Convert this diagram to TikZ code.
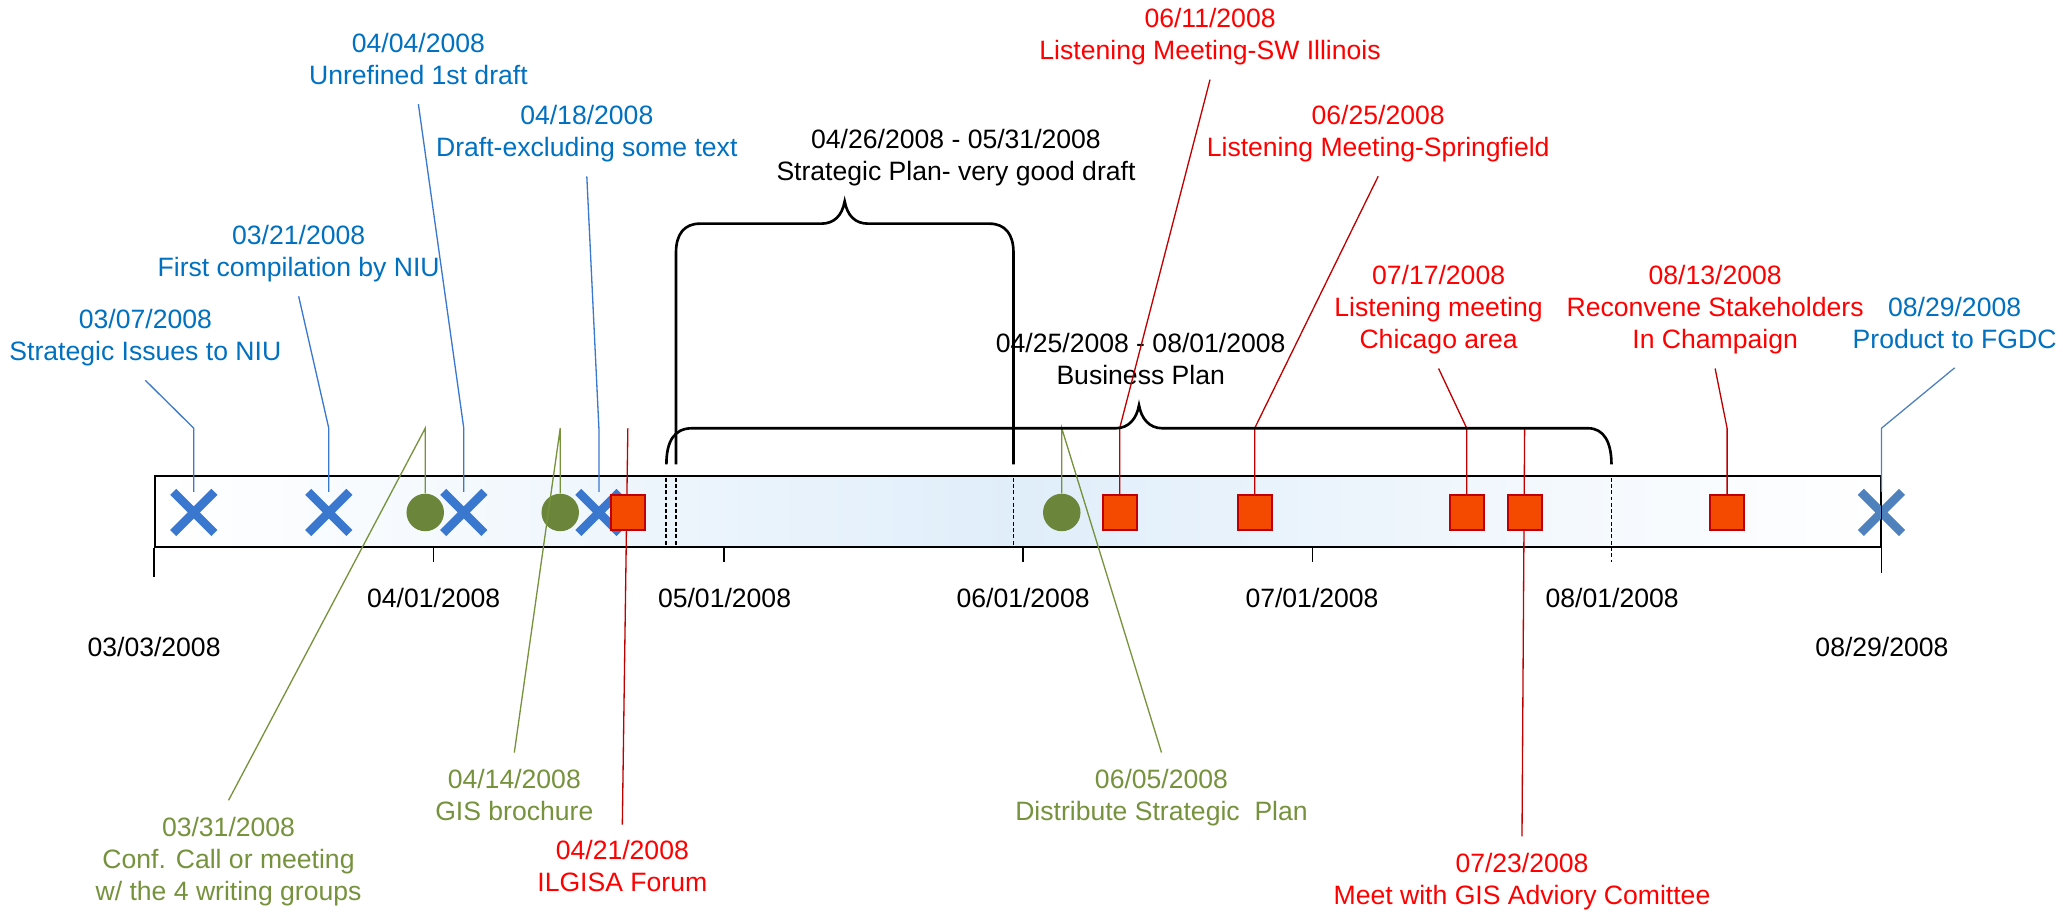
\documentclass[tikz,border=0pt]{standalone}
\usepackage{fontspec}
\setmainfont{Liberation Sans}
\usetikzlibrary{shapes.misc}
\definecolor{txtblue}{RGB}{0,112,192}
\definecolor{xblue}{RGB}{58,120,208}
\definecolor{acblue}{RGB}{79,129,189}
\definecolor{txtgreen}{RGB}{118,146,60}
\definecolor{dotgreen}{RGB}{107,133,58}
\definecolor{txtred}{RGB}{255,0,0}
\definecolor{lnred}{RGB}{192,0,0}
\definecolor{sqfill}{RGB}{244,74,0}
\definecolor{barmid}{RGB}{224,238,250}
\newcommand{\lbl}[1]{\begin{tabular}[t]{@{}c@{}}#1\end{tabular}}
\begin{document}
\begin{tikzpicture}[x=1pt,y=-1pt,
  font=\fontsize{20.2}{24.3}\selectfont,
  lb/.style={anchor=base,inner sep=0pt},
  evline/.style={line width=1pt},
  blueln/.style={evline,draw=xblue},
  acln/.style={evline,draw=acblue},
  greenln/.style={evline,draw=txtgreen},
  redln/.style={evline,draw=lnred},
  xmk/.style={cross out,draw=xblue,line width=6.5pt,minimum size=24.8pt,inner sep=0pt},
  dotmk/.style={circle,fill=dotgreen,minimum size=28.5pt,inner sep=0pt},
  sqmk/.style={rectangle,fill=sqfill,draw=lnred,line width=1.5pt,minimum width=26pt,minimum height=26.5pt,inner sep=0pt},
  brace/.style={line width=2pt,draw=black},
  axisline/.style={line width=1.3pt,draw=black},
  tickln/.style={line width=1.2pt,draw=black},
  dashln/.style={line width=1.4pt,draw=black,dash pattern=on 3pt off 1.8pt}]
\useasboundingbox (0,0) rectangle (1568,693);

% timeline bar
\node[draw=black,line width=1.5pt,minimum width=1312pt,minimum height=54pt,inner sep=0pt,
  left color=white,right color=white,middle color=barmid] (bar) at (774,389) {};
\draw[axisline] (bar.south west) -- ++(0pt,-22pt);

% dashed range markers
\draw[dashln] (506.5,363) -- (506.5,416);
\draw[dashln] (513.8,363) -- (513.8,416);
\draw[dashln] (770.3,363) -- (770.3,416);
\draw[dashln] (1224.8,363) -- (1224.8,427);

% ticks
\draw[tickln] (329.6,416) -- (329.6,427);
\draw[tickln] (550.4,416) -- (550.4,427);
\draw[tickln] (777.7,416) -- (777.7,427);
\draw[tickln] (997.6,416) -- (997.6,427);

% axis labels
\node[lb] (a0401) at (329.6,462) {04/01/2008};
\node[lb] (a0501) at (550.7,462) {05/01/2008};
\node[lb] (a0601) at (777.6,462) {06/01/2008};
\node[lb] (a0701) at (997.2,462) {07/01/2008};
\node[lb] (a0801) at (1225.3,462) {08/01/2008};
\node[lb] (a0303) at (117.1,498.7) {03/03/2008};
\node[lb] (a0829) at (1430.4,498.9) {08/29/2008};

% event labels
\node[lb,text=txtblue] (L0307) at (110.5,249.7) {\lbl{03/07/2008\\Strategic Issues to NIU}};
\node[lb,text=txtblue] (L0321) at (227,185.8) {\lbl{03/21/2008\\First compilation by NIU}};
\node[lb,text=txtblue] (L0404) at (318,40.2) {\lbl{04/04/2008\\Unrefined 1st draft}};
\node[lb,text=txtblue] (L0418) at (446,94.6) {\lbl{04/18/2008\\Draft-excluding some text}};
\node[lb,text=txtblue] (L0829) at (1485.6,240.2) {\lbl{08/29/2008\\Product to FGDC}};
\node[lb,text=txtred] (L0611) at (919.7,21.1) {\lbl{06/11/2008\\Listening Meeting-SW Illinois}};
\node[lb,text=txtred] (L0625) at (1047.5,94.6) {\lbl{06/25/2008\\Listening Meeting-Springfield}};
\node[lb,text=txtred] (L0717) at (1093.4,216.2) {\lbl{07/17/2008\\Listening meeting\\Chicago area}};
\node[lb,text=txtred] (L0813) at (1303.6,216.2) {\lbl{08/13/2008\\Reconvene Stakeholders\\In Champaign}};
\node[lb,text=txtgreen] (L0331) at (173.7,635.5) {\lbl{03/31/2008\\Conf. Call or meeting\\w/ the 4 writing groups}};
\node[lb,text=txtgreen] (L0414) at (390.9,599.2) {\lbl{04/14/2008\\GIS brochure}};
\node[lb,text=txtgreen] (L0605) at (882.8,599.2) {\lbl{06/05/2008\\Distribute Strategic\ \ Plan}};
\node[lb,text=txtred] (L0421) at (473,653.2) {\lbl{04/21/2008\\ILGISA Forum}};
\node[lb,text=txtred] (L0723) at (1156.8,662.9) {\lbl{07/23/2008\\Meet with GIS Adviory Comittee}};
\node[lb] (Lsp) at (726.6,113.1) {\lbl{04/26/2008 - 05/31/2008\\Strategic Plan- very good draft}};
\node[lb] (Lbp) at (867,268.2) {\lbl{04/25/2008 - 08/01/2008\\Business Plan}};

% connector ends at labels
\coordinate (e0307) at ([yshift=-7.6pt]L0307.south);
\coordinate (e0321) at ([yshift=-7.6pt]L0321.south);
\coordinate (e0404) at ([yshift=-7.2pt]L0404.south);
\coordinate (e0418) at ([yshift=-7.6pt]L0418.south);
\coordinate (e0829) at ([yshift=-7.6pt]L0829.south);
\coordinate (e0611) at ([yshift=-7.6pt]L0611.south);
\coordinate (e0625) at ([yshift=-7.6pt]L0625.south);
\coordinate (e0717) at ([yshift=-7.8pt]L0717.south);
\coordinate (e0813) at ([yshift=-7.8pt]L0813.south);
\coordinate (e0331) at ([yshift=10pt]L0331.north);
\coordinate (e0414) at ([yshift=10pt]L0414.north);
\coordinate (e0605) at ([yshift=10pt]L0605.north);
\coordinate (e0421) at ([yshift=9.2pt]L0421.north);
\coordinate (e0723) at ([yshift=10pt]L0723.north);

% bends
\coordinate (k0307) at (147.3,325.5);
\coordinate (k0321) at (249.9,325.5);
\coordinate (k0331) at (323.2,325.5);
\coordinate (k0404) at (352.5,325.5);
\coordinate (k0414) at (425.8,325.5);
\coordinate (k0418) at (455.2,325.5);
\coordinate (k0421) at (477.2,325.5);
\coordinate (k0605) at (807.0,325.5);
\coordinate (k0611) at (851.0,325.5);
\coordinate (k0625) at (953.6,325.5);
\coordinate (k0717) at (1114.8,325.5);
\coordinate (k0723) at (1158.8,325.5);
\coordinate (k0813) at (1312.7,325.5);
\coordinate (k0829) at (1430,325.5);

% markers (placed first so connectors can refer to them)
\node[xmk] (m0307) at (147.3,389.5) {};
\node[xmk] (m0321) at (249.9,389.5) {};
\node[dotmk] (m0331) at (323.2,389.5) {};
\node[xmk] (m0404) at (352.5,389.5) {};
\node[dotmk] (m0414) at (425.8,389.5) {};
\node[xmk] (m0418) at (455.2,389.5) {};
\node[xmk,draw=acblue] (m0829) at (1430,389.5) {};

% connectors
\draw[blueln] (e0307) -- (k0307) -- (m0307.north);
\draw[blueln] (e0321) -- (k0321) -- (m0321.north);
\draw[blueln] (e0404) -- (k0404) -- (m0404.north);
\draw[blueln] (e0418) -- (k0418) -- (m0418.north);
\draw[acln] (e0829) -- (k0829) -- (m0829.north);
\draw[greenln] (m0331.north) -- (k0331) -- (e0331);
\draw[greenln] (m0414.north) -- (k0414) -- (e0414);
\draw[redln] (k0421) -- (e0421);
\draw[redln] (k0723) -- (e0723);

% remaining markers
\node[sqmk] (m0421) at (477.2,389.5) {};
\node[dotmk] (m0605) at (807.0,389.5) {};
\node[sqmk] (m0611) at (851.0,389.5) {};
\node[sqmk] (m0625) at (953.6,389.5) {};
\node[sqmk] (m0717) at (1114.8,389.5) {};
\node[sqmk] (m0723) at (1158.8,389.5) {};
\node[sqmk] (m0813) at (1312.7,389.5) {};

\draw[greenln] (m0605.north) -- (k0605) -- (e0605);
\draw[redln] (e0611) -- (k0611) -- (m0611.north);
\draw[redln] (e0625) -- (k0625) -- (m0625.north);
\draw[redln] (e0717) -- (k0717) -- (m0717.north);
\draw[redln] (e0813) -- (k0813) -- (m0813.north);

\draw[axisline] (m0829.north) -- ++(0pt,-62pt);

% braces
\draw[brace] (513.8,353) -- (513.8,192) .. controls (513.8,178) and (520,170) .. (532,170)
  -- (624,170) .. controls (634,170) and (640,164) .. (642,153)
  .. controls (644,164) and (650,170) .. (660,170) -- (752,170)
  .. controls (764,170) and (770.3,178) .. (770.3,192) -- (770.3,353);
\draw[brace] (506.5,353) .. controls (506.5,336) and (512,325.5) .. (526,325.5)
  -- (848,325.5) .. controls (858,325.5) and (864,318) .. (865.7,308)
  .. controls (867.4,318) and (873.4,325.5) .. (883.4,325.5) -- (1207,325.5)
  .. controls (1219,325.5) and (1224.8,336) .. (1224.8,353);
\end{tikzpicture}
\end{document}
